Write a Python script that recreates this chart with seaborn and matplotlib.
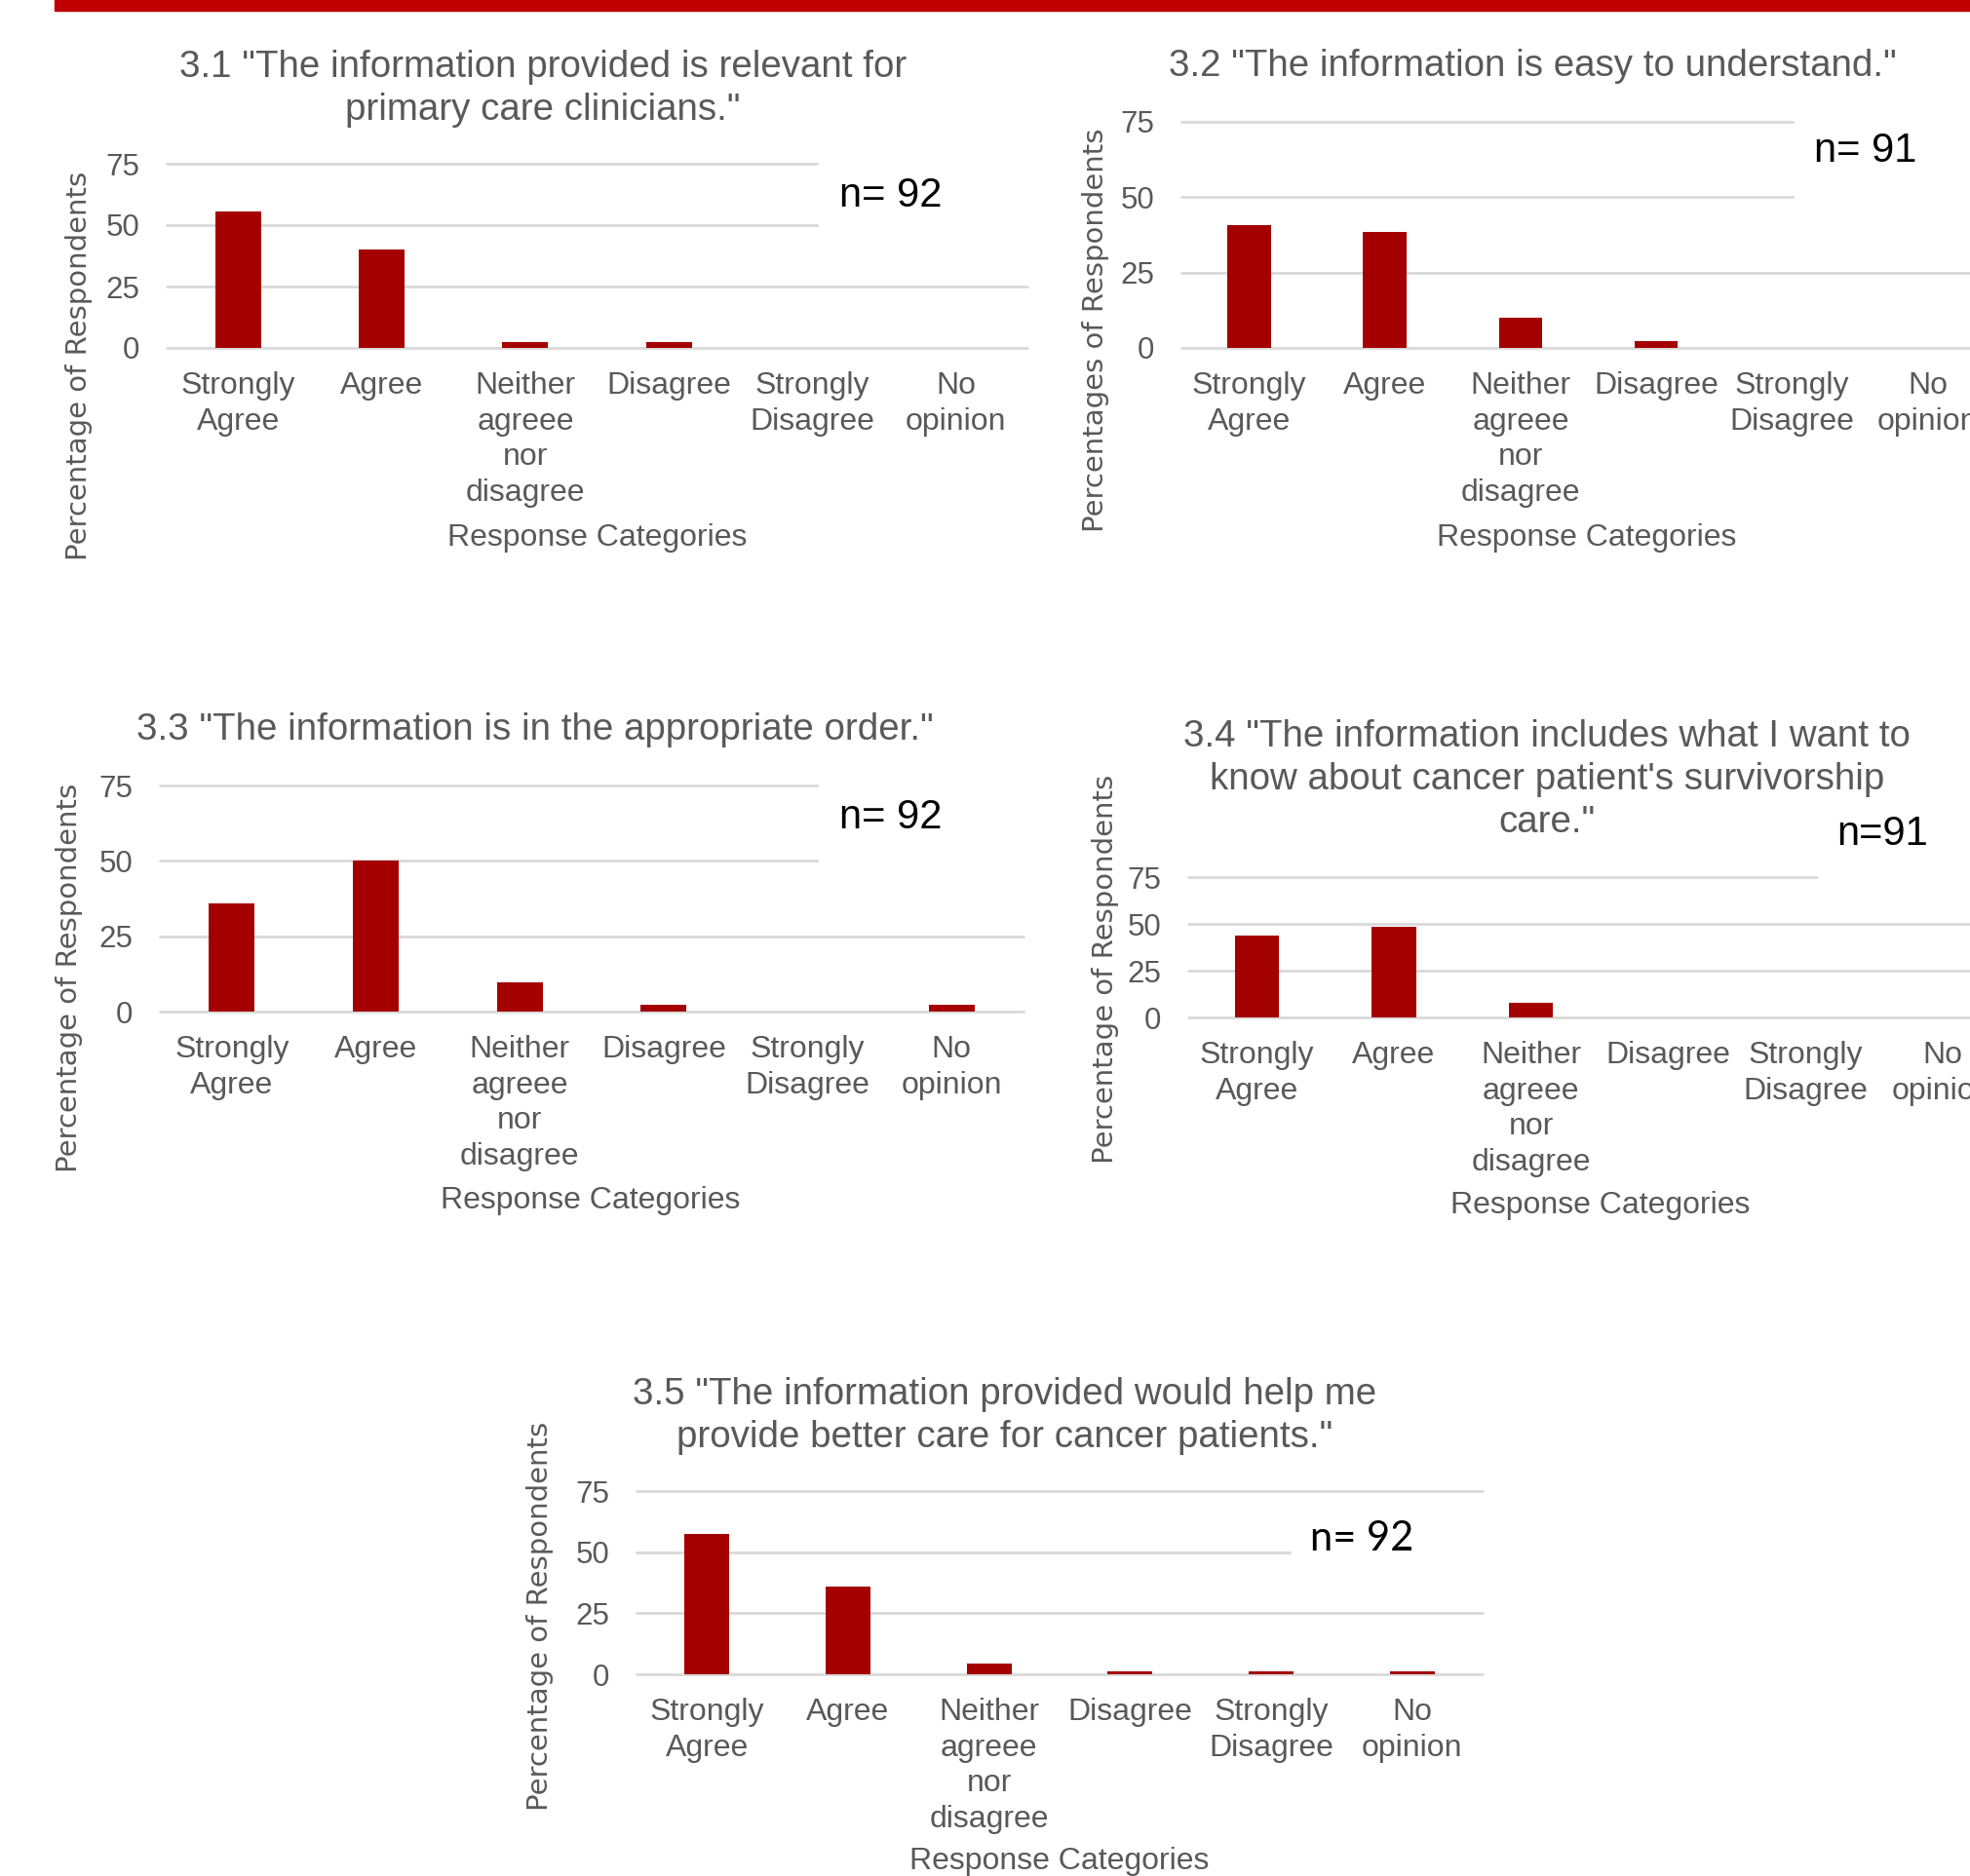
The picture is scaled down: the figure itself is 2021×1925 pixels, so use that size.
import matplotlib
matplotlib.use("Agg")
import matplotlib.pyplot as plt
from matplotlib.patches import Rectangle
import pandas as pd
import seaborn as sns

# Figure size in pixels (dpi 100)
W, H = 2021, 1925

# ---- data ----
categories = ["Strongly\nAgree", "Agree", "Neither\nagreee\nnor\ndisagree",
              "Disagree", "Strongly\nDisagree", "No\nopinion"]

q31_pct = [55.4, 40.2, 2.2, 2.2, 0.0, 0.0]
q32_pct = [40.7, 38.5, 9.9, 2.2, 0.0, 0.0]
q33_pct = [35.9, 50.0, 9.8, 2.2, 0.0, 2.2]
q34_pct = [44.0, 48.4, 7.7, 0.0, 0.0, 0.0]
q35_pct = [57.6, 35.9, 4.3, 1.1, 1.1, 1.1]

titles = [
    '3.1 "The information provided is relevant for\nprimary care clinicians."',
    '3.2 "The information is easy to understand."',
    '3.3 "The information is in the appropriate order."',
    '3.4 "The information includes what I want to\nknow about cancer patient\'s survivorship\ncare."',
    '3.5 "The information provided would help me\nprovide better care for cancer patients."',
]
n_labels = ["n= 92", "n= 91", "n= 92", "n=91", "n= 92"]
y_labels = ["Percentage of Respondents", "Percentages of Respondents",
            "Percentage of Respondents", "Percentage of Respondents",
            "Percentage of Respondents"]
x_label = "Response Categories"
y_ticks = [0, 25, 50, 75]

series = [q31_pct, q32_pct, q33_pct, q34_pct, q35_pct]

# ---- layout (pixel positions in the full image) ----
# ax: left, top, right, bottom ; box: x0 (axes frac), y0, y1 (data) of white patch behind n label
layout = [
    dict(ax=(171, 168, 1054, 357), title=(557, 91), ylab=(81, 375), xlab=(613, 552),
         n=(861, 201), box=(0.758, 27, 80), nfont="Liberation Sans"),
    dict(ax=(1212, 125, 2047, 357), title=(1572, 68), ylab=(1124, 339), xlab=(1628, 552),
         n=(1861, 155), box=(0.753, 30, 80), nfont="Liberation Sans"),
    dict(ax=(164, 806, 1050, 1038), title=(549, 749), ylab=(71, 1003), xlab=(606, 1232),
         n=(861, 839), box=(0.763, 30, 80), nfont="Liberation Sans"),
    dict(ax=(1219, 900, 2063, 1044), title=(1587, 800), ylab=(1134, 994), xlab=(1642, 1237),
         n=(1884, 856), box=(0.765, 60, 85), nfont="Liberation Sans"),
    dict(ax=(653, 1530, 1521, 1718), title=(1031, 1453), ylab=(554, 1658), xlab=(1087, 1910),
         n=(1344, 1579), box=(0.774, 40, 62), nfont="Lato"),
]

BAR = "#A50000"
GRID = "#D9D9D9"
TEXT = "#595959"

sns.set_style("white")
plt.rcParams["font.family"] = ["Liberation Sans", "DejaVu Sans"]

fig = plt.figure(figsize=(W / 100, H / 100), dpi=100)
fig.patch.set_facecolor("white")


def fx(x):
    return x / W


def fy(y):
    return 1 - y / H


# red header strip
fig.patches.append(Rectangle((fx(56), fy(11)), 1 - fx(56), 11 / H,
                             transform=fig.transFigure, color="#C00000", zorder=0))

for values, title, n_lab, ylab, lay in zip(series, titles, n_labels, y_labels, layout):
    l, t, r, b = lay["ax"]
    ax = fig.add_axes([fx(l), fy(b), (r - l) / W, (b - t) / H])
    df = pd.DataFrame({"category": categories, "pct": values})
    sns.barplot(data=df, x="category", y="pct", order=categories, ax=ax,
                color=BAR, saturation=1, width=0.32, linewidth=0, zorder=3)

    ax.set_ylim(0, 75)
    ax.set_xlim(-0.5, len(categories) - 0.5)
    ax.set_yticks(y_ticks)
    ax.set_xlabel("")
    ax.set_ylabel("")
    for s in ax.spines.values():
        s.set_visible(False)
    ax.set_axisbelow(True)
    ax.yaxis.grid(True, color=GRID, linewidth=2)
    for gl in ax.get_ygridlines():
        gl.set_clip_on(False)
    ax.tick_params(axis="y", length=0, pad=20, labelsize=22.5, labelcolor=TEXT)
    ax.tick_params(axis="x", length=0, pad=17.5, labelsize=23, labelcolor=TEXT)
    for lbl in ax.get_xticklabels():
        lbl.set_multialignment("center")
        lbl.set_linespacing(1.28)

    # white patch where the sample size label sits
    x0, y0, y1 = lay["box"]
    ax.axhspan(y0, y1, xmin=x0, xmax=1.05, color="white", zorder=1, clip_on=False)

    tx, ty = lay["title"]
    fig.text(fx(tx), fy(ty), title, ha="center", va="center", fontsize=27.7,
             color=TEXT, multialignment="center", linespacing=1.28)
    yx, yy = lay["ylab"]
    fig.text(fx(yx), fy(yy), ylab, ha="center", va="center", rotation=90,
             fontsize=21, color=TEXT, family="DejaVu Sans")
    xx, xy = lay["xlab"]
    fig.text(fx(xx), fy(xy), x_label, ha="center", va="center", fontsize=23, color=TEXT)
    nx, ny = lay["n"]
    fig.text(fx(nx), fy(ny), n_lab, ha="left", va="center", fontsize=30,
             color="black", family=lay["nfont"], zorder=5)

fig.savefig("out.png", dpi=100)
